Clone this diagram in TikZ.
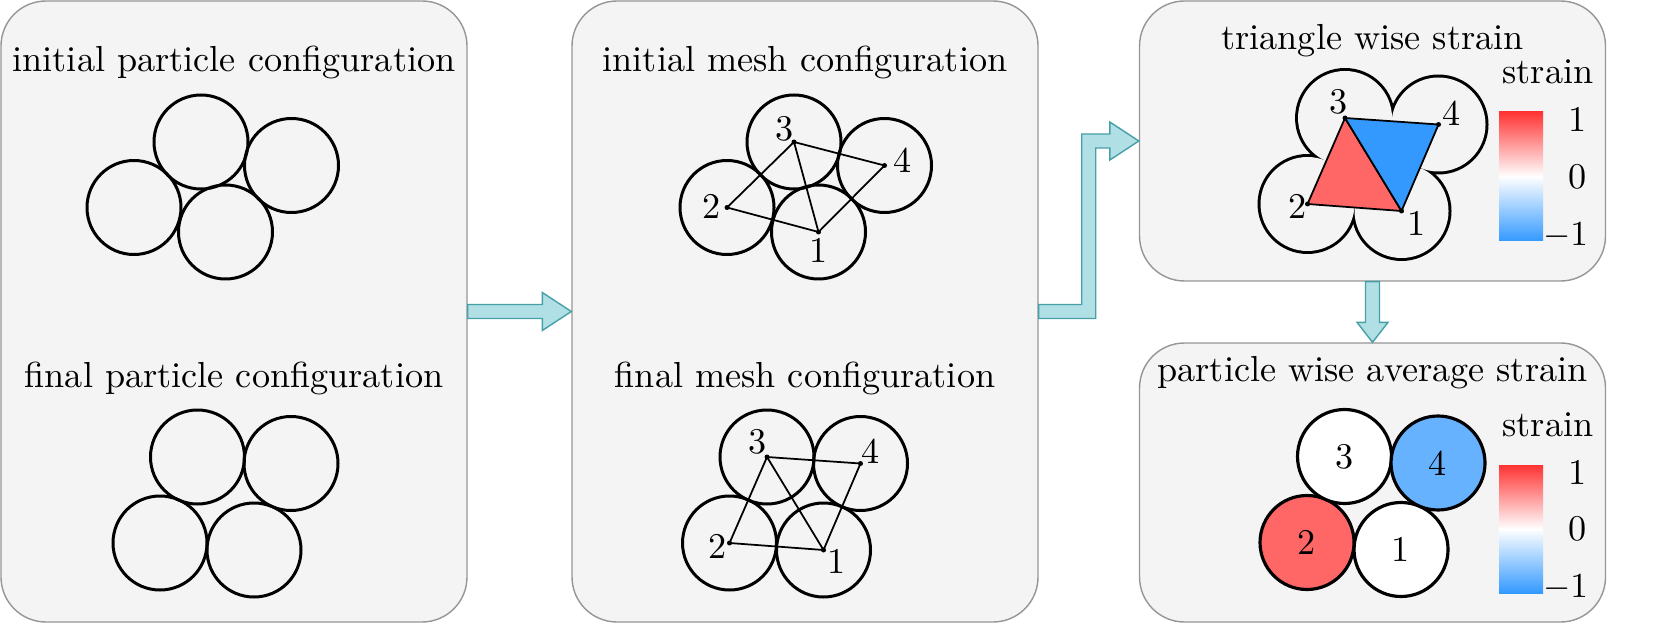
\documentclass[tikz,border=0pt]{standalone}
\usepackage{xcolor}
\definecolor{panelbg}{RGB}{244,244,244}
\definecolor{panelline}{RGB}{150,150,150}
\definecolor{arrowfill}{RGB}{176,224,230}
\definecolor{arrowline}{RGB}{70,160,166}
\definecolor{strainred}{RGB}{255,102,102}
\definecolor{strainblue}{RGB}{51,153,255}
\definecolor{avgblue}{RGB}{102,178,255}
\definecolor{cbtop}{RGB}{255,51,51}
\definecolor{cbbot}{RGB}{51,153,255}
\usetikzlibrary{calc,positioning}

% particle centres, relative to particle 3
\def\initpos{3/0/0,4/0.905/-0.235,2/-0.67/-0.655,1/0.245/-0.90}
\def\finalpos{3/0/0,4/0.935/-0.065,2/-0.375/-0.86,1/0.565/-0.93}

\tikzset{
  panel/.style={draw=panelline,fill=panelbg,rounded corners=0.45cm,line width=0.4pt,
    inner sep=0pt,minimum width=4.66cm},
  title/.style={font=\fontsize{10.3}{12}\selectfont,anchor=base,inner sep=0pt},
  num/.style={font=\fontsize{10.3}{12}\selectfont,inner sep=0pt},
  particle/.style={line width=0.85pt},
  mesh/.style={line width=0.5pt},
  fatarrow/.style={draw=arrowline,fill=arrowfill,line width=0.4pt,line join=miter},
  cbar/.style={minimum width=0.44cm,inner sep=0pt,top color=cbtop,bottom color=cbbot,
    middle color=white},
}

\begin{document}
\begin{tikzpicture}
  \useasboundingbox (0,0) rectangle (16.61,-6.24);
  % Panels
  \node[panel,minimum height=6.21cm] (p1) at (2.34,-3.115) {};
  \node[panel,minimum height=6.21cm] (p2) at (8.05,-3.115) {};
  \node[panel,minimum height=2.80cm] (p3) at (13.725,-1.41) {};
  \node[panel,minimum height=2.79cm] (p4) at (13.725,-4.825) {};
  % Titles
  \node[title] (t1) at ($(p1.north)+(0,-0.71)$) {initial particle configuration};
  \node[title] (t2) at ($(p1.north)+(0,-3.87)$) {final particle configuration};
  \node[title] (t3) at ($(p2.north)+(0,-0.71)$) {initial mesh configuration};
  \node[title] (t4) at ($(p2.north)+(0,-3.87)$) {final mesh configuration};
  \node[title] (t5) at ($(p3.north)+(0,-0.49)$) {triangle wise strain};
  \node[title] (t6) at ($(p4.north)+(0,-0.39)$) {particle wise average strain};

  % Arrows
  \draw[fatarrow] ($(p1.east)+(0,.07)$) -- ($(p2.west)+(-.29,.07)$) -- ($(p2.west)+(-.29,.19)$)
    -- (p2.west) -- ($(p2.west)+(-.29,-.19)$) -- ($(p2.west)+(-.29,-.07)$)
    -- ($(p1.east)+(0,-.07)$) -- cycle;
  \coordinate (bend) at ($(p2.east)!0.5!(p3.west)$);
  \coordinate (k1) at (bend |- p2.east);
  \coordinate (k2) at (bend |- p3.west);
  \draw[fatarrow] ($(p2.east)+(0,.07)$) -- ($(k1)+(-.07,.07)$) -- ($(k2)+(-.07,.07)$)
    -- ($(p3.west)+(-.29,.07)$) -- ($(p3.west)+(-.29,.19)$) -- (p3.west)
    -- ($(p3.west)+(-.29,-.19)$) -- ($(p3.west)+(-.29,-.07)$) -- ($(k2)+(.07,-.07)$)
    -- ($(k1)+(.07,-.07)$) -- ($(p2.east)+(0,-.07)$) -- cycle;
  \draw[fatarrow] ($(p3.south)+(-.07,0)$) -- ($(p4.north)+(-.07,.20)$) -- ($(p4.north)+(-.155,.20)$)
    -- (p4.north) -- ($(p4.north)+(.155,.20)$) -- ($(p4.north)+(.07,.20)$)
    -- ($(p3.south)+(.07,0)$) -- cycle;

  % Particle centres
  \foreach \n/\x/\y in \initpos {
    \coordinate (a\n) at ($(2.01,-1.42)+(\x,\y)$);
    \coordinate (c\n) at ($(7.94,-1.42)+(\x,\y)$);
  }
  \foreach \n/\x/\y in \finalpos {
    \coordinate (b\n) at ($(1.975,-4.57)+(\x,\y)$);
    \coordinate (d\n) at ($(7.67,-4.57)+(\x,\y)$);
    \coordinate (e\n) at ($(13.45,-1.18)+(\x,\y)$);
    \coordinate (f\n) at ($(13.445,-4.565)+(\x,\y)$);
  }

  % Particle configurations
  \foreach \n in {1,...,4} {
    \draw[particle] (a\n) circle (0.47);
    \draw[particle] (b\n) circle (0.47);
  }

  % Mesh configurations
  \foreach \n in {1,...,4} {
    \draw[particle] (c\n) circle (0.47);
    \draw[particle] (d\n) circle (0.47);
  }
  \draw[mesh] (c2) -- (c3) -- (c4) -- (c1) -- cycle (c3) -- (c1);
  \draw[mesh] (d2) -- (d3) -- (d4) -- (d1) -- cycle (d3) -- (d1);
  \foreach \n in {1,...,4} {
    \fill (c\n) circle (0.025);
    \fill (d\n) circle (0.025);
  }
  \foreach \n/\dx/\dy in {3/-0.09/0.134,4/0.18/0.053,2/-0.15/0.01,1/0/-0.183}
    \node[num] (cl\n) at ($(c\n)+(\dx,\dy)$) {\n};
  \foreach \n/\dx/\dy in {3/-0.094/0.154,4/0.10/0.12,2/-0.12/-0.034,1/0.134/-0.116}
    \node[num] (dl\n) at ($(d\n)+(\dx,\dy)$) {\n};

  % Triangle wise strain
  \foreach \n in {1,...,4}
    \draw[line width=1.7pt] (e\n) circle (0.47);
  \foreach \n in {1,...,4}
    \fill[panelbg] (e\n) circle (0.47);
  \draw[mesh,fill=strainred] (e2) -- (e3) -- (e1) -- cycle;
  \draw[mesh,fill=strainblue] (e3) -- (e4) -- (e1) -- cycle;
  \foreach \n in {1,...,4}
    \fill (e\n) circle (0.025);
  \foreach \n/\dx/\dy in {3/-0.06/0.16,4/0.134/0.11,2/-0.10/-0.024,1/0.153/-0.123}
    \node[num] (el\n) at ($(e\n)+(\dx,\dy)$) {\n};

  % Particle wise average strain
  \foreach \n/\col in {1/white,2/strainred,3/white,4/avgblue} {
    \draw[line width=0.9pt,fill=\col] (f\n) circle (0.47);
    \node[num] (fl\n) at (f\n) {\n};
  }

  % Colour bars
  \node[cbar,minimum height=1.29cm] (cb3) at (15.21,-1.765) {};
  \node[cbar,minimum height=1.28cm] (cb4) at (15.21,-5.29) {};
  \foreach \b in {cb3,cb4} {
    \node[title] (\b s) at ($(\b.north)+(0.27,0.28)$) {strain};
    \node[num,anchor=east] (\b t) at ($(\b.north east)+(0.44,-0.08)$) {1};
    \node[num,anchor=east] (\b m) at ($(\b.east)+(0.44,0)$) {0};
    \node[num,anchor=east] (\b b) at ($(\b.south east)+(0.45,0.06)$) {$-1$};
  }
\end{tikzpicture}
\end{document}
